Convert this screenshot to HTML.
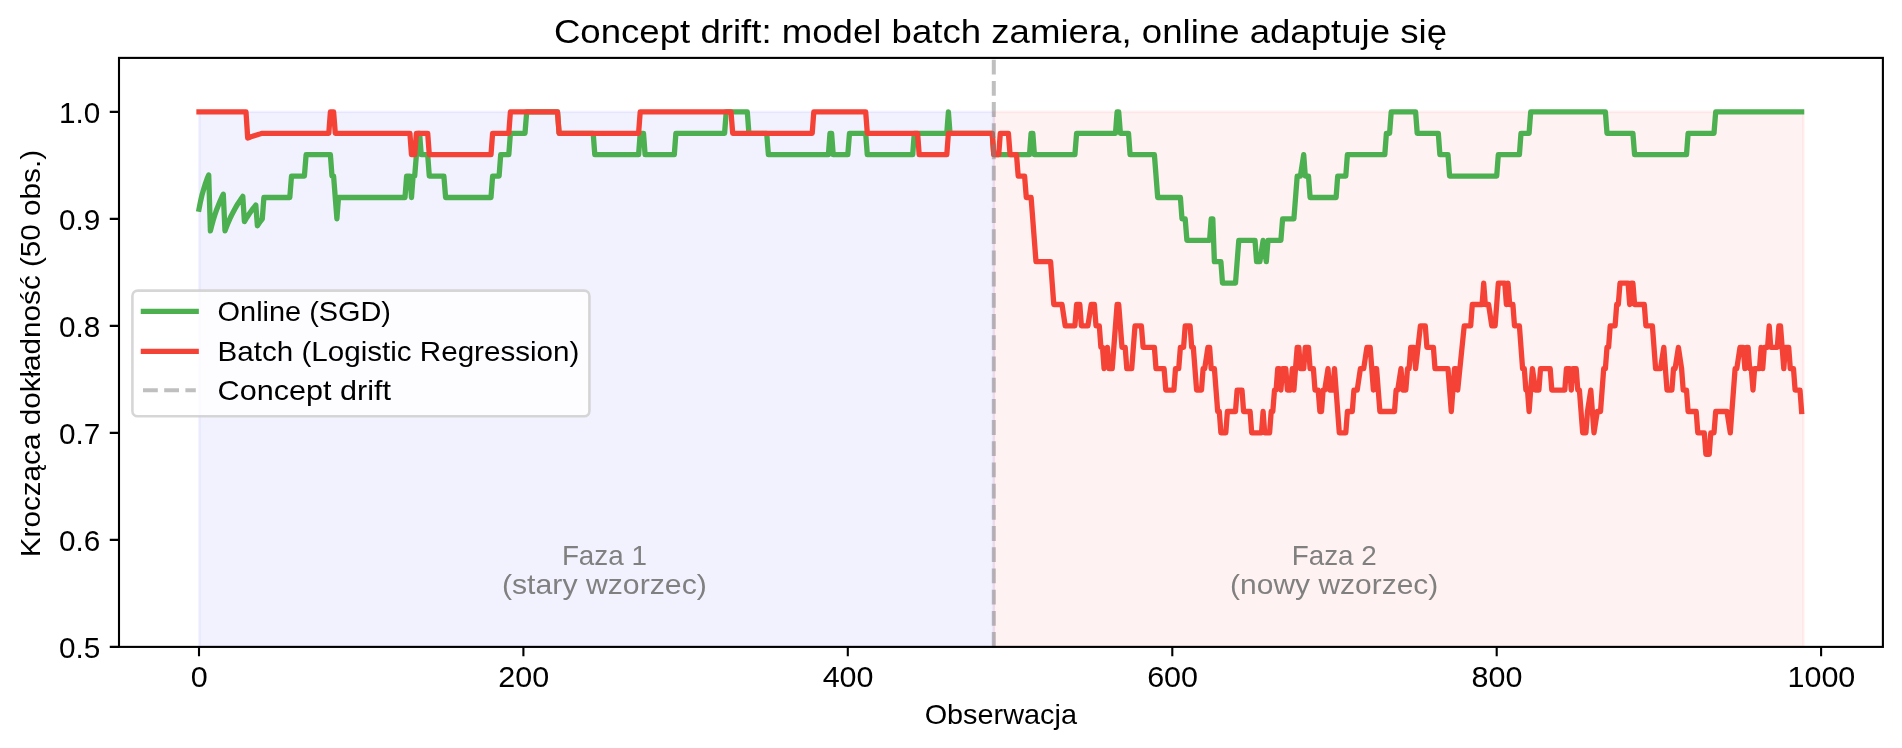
<!DOCTYPE html><html><head><meta charset="utf-8"><title>Concept drift</title><style>html,body{margin:0;padding:0;background:#fff}svg{display:block;will-change:transform}text{font-family:"Liberation Sans",sans-serif}</style></head><body>
<svg width="1902" height="748" viewBox="0 0 1902 748">
<rect width="1902" height="748" fill="#fff"/>
<rect x="199.4" y="111.9" width="794.4" height="535.0" fill="#0000ff" fill-opacity="0.05" stroke="#0000ff" stroke-opacity="0.05" stroke-width="2.6"/>
<rect x="993.8" y="111.9" width="809.6" height="535.0" fill="#ff0000" fill-opacity="0.05" stroke="#ff0000" stroke-opacity="0.05" stroke-width="2.6"/>
<clipPath id="c"><rect x="119" y="57.9" width="1763.9" height="589"/></clipPath>
<g clip-path="url(#c)" fill="none" stroke-linejoin="round" stroke-linecap="square">
<path d="M199.0 209.2 L200.6 201.1 L202.2 194.2 L203.9 188.4 L205.5 183.3 L207.1 178.8 L208.7 174.9 L210.4 230.8 L212.0 224.6 L213.6 218.9 L215.2 213.8 L216.8 209.2 L218.5 205.0 L220.1 201.1 L221.7 197.5 L223.3 194.2 L225.0 230.8 L226.6 226.6 L228.2 222.6 L229.8 218.9 L231.4 215.5 L233.1 212.3 L234.7 209.2 L236.3 206.4 L237.9 203.7 L239.6 201.1 L241.2 198.7 L242.8 196.4 L244.4 221.7 L246.0 218.9 L247.7 216.3 L249.3 213.8 L250.9 211.5 L252.5 209.2 L254.2 207.1 L255.8 205.0 L257.4 225.8 L259.0 223.4 L260.6 221.1 L262.3 218.9 L263.9 197.5 L289.8 197.5 L291.5 176.1 L304.4 176.1 L306.1 154.7 L330.4 154.7 L332.0 176.1 L333.6 176.1 L336.9 218.9 L338.5 197.5 L405.0 197.5 L406.6 176.1 L409.9 176.1 L411.5 197.5 L413.1 176.1 L414.7 176.1 L416.4 154.7 L418.0 133.3 L419.6 133.3 L421.2 154.7 L427.7 154.7 L429.3 176.1 L443.9 176.1 L445.6 197.5 L491.0 197.5 L492.6 176.1 L499.1 176.1 L500.7 154.7 L508.8 154.7 L510.4 133.3 L525.0 133.3 L526.7 111.9 L557.5 111.9 L559.1 133.3 L593.2 133.3 L594.8 154.7 L638.6 154.7 L640.2 133.3 L643.5 133.3 L645.1 154.7 L674.3 154.7 L675.9 133.3 L724.6 133.3 L726.2 111.9 L747.3 111.9 L748.9 133.3 L766.7 133.3 L768.4 154.7 L828.4 154.7 L830.0 133.3 L831.6 133.3 L833.2 154.7 L847.8 154.7 L849.5 133.3 L865.7 133.3 L867.3 154.7 L912.7 154.7 L914.3 133.3 L946.8 133.3 L948.4 111.9 L950.0 133.3 L992.2 133.3 L993.8 154.7 L1029.5 154.7 L1031.1 133.3 L1032.8 133.3 L1034.4 154.7 L1074.9 154.7 L1076.6 133.3 L1115.5 133.3 L1117.1 111.9 L1118.7 111.9 L1120.4 133.3 L1128.5 133.3 L1130.1 154.7 L1154.4 154.7 L1157.7 197.5 L1180.4 197.5 L1182.0 218.9 L1185.2 218.9 L1186.9 240.3 L1209.6 240.3 L1211.2 218.9 L1212.8 218.9 L1214.4 261.7 L1220.9 261.7 L1222.5 283.1 L1235.5 283.1 L1238.8 240.3 L1255.0 240.3 L1256.6 261.7 L1259.9 261.7 L1263.1 240.3 L1266.3 261.7 L1268.0 240.3 L1280.9 240.3 L1282.6 218.9 L1293.9 218.9 L1297.2 176.1 L1300.4 176.1 L1303.7 154.7 L1305.3 176.1 L1308.5 176.1 L1310.1 197.5 L1336.1 197.5 L1337.7 176.1 L1345.8 176.1 L1347.4 154.7 L1384.8 154.7 L1386.4 133.3 L1389.6 133.3 L1391.2 111.9 L1415.6 111.9 L1417.2 133.3 L1438.3 133.3 L1439.9 154.7 L1448.0 154.7 L1449.6 176.1 L1496.7 176.1 L1498.3 154.7 L1519.4 154.7 L1521.0 133.3 L1529.1 133.3 L1530.7 111.9 L1605.4 111.9 L1607.0 133.3 L1632.9 133.3 L1634.6 154.7 L1686.5 154.7 L1688.1 133.3 L1714.0 133.3 L1715.7 111.9 L1801.6 111.9" stroke="#4caf50" stroke-width="5.3"/>
<path d="M199.0 111.9 L246.0 111.9 L247.7 138.0 L249.3 137.4 L250.9 136.8 L252.5 136.3 L254.2 135.7 L255.8 135.2 L257.4 134.7 L259.0 134.2 L260.6 133.8 L262.3 133.3 L263.9 133.3 L328.8 133.3 L330.4 111.9 L333.6 111.9 L335.3 133.3 L409.9 133.3 L411.5 154.7 L414.7 154.7 L416.4 133.3 L427.7 133.3 L429.3 154.7 L491.0 154.7 L492.6 133.3 L508.8 133.3 L510.4 111.9 L557.5 111.9 L559.1 133.3 L638.6 133.3 L640.2 111.9 L731.0 111.9 L732.7 133.3 L812.2 133.3 L813.8 111.9 L865.7 111.9 L867.3 133.3 L917.6 133.3 L919.2 154.7 L946.8 154.7 L948.4 133.3 L992.2 133.3 L993.8 154.7 L998.7 154.7 L1000.3 133.3 L1008.4 133.3 L1010.1 154.7 L1016.5 154.7 L1018.2 176.1 L1024.6 176.1 L1026.3 197.5 L1031.1 197.5 L1036.0 261.7 L1050.6 261.7 L1053.8 304.5 L1062.0 304.5 L1065.2 325.9 L1074.9 325.9 L1076.6 304.5 L1079.8 304.5 L1081.4 325.9 L1087.9 325.9 L1091.2 304.5 L1094.4 304.5 L1096.0 325.9 L1099.3 325.9 L1100.9 347.3 L1102.5 347.3 L1104.1 368.7 L1107.4 347.3 L1109.0 368.7 L1112.2 368.7 L1117.1 304.5 L1118.7 304.5 L1122.0 347.3 L1125.2 347.3 L1126.8 368.7 L1131.7 368.7 L1135.0 325.9 L1141.4 325.9 L1143.1 347.3 L1154.4 347.3 L1156.0 368.7 L1164.1 368.7 L1165.8 390.1 L1173.9 390.1 L1175.5 368.7 L1178.7 368.7 L1180.4 347.3 L1183.6 347.3 L1185.2 325.9 L1190.1 325.9 L1191.7 347.3 L1193.3 347.3 L1196.6 390.1 L1201.5 390.1 L1203.1 368.7 L1204.7 368.7 L1207.9 347.3 L1209.6 347.3 L1211.2 368.7 L1214.4 368.7 L1217.7 411.5 L1219.3 411.5 L1220.9 432.9 L1225.8 432.9 L1227.4 411.5 L1235.5 411.5 L1237.1 390.1 L1242.0 390.1 L1243.6 411.5 L1250.1 411.5 L1251.7 432.9 L1261.5 432.9 L1263.1 411.5 L1264.7 432.9 L1269.6 432.9 L1271.2 411.5 L1272.8 411.5 L1274.5 390.1 L1276.1 390.1 L1277.7 368.7 L1279.3 368.7 L1280.9 390.1 L1282.6 368.7 L1285.8 368.7 L1287.4 390.1 L1290.7 390.1 L1292.3 368.7 L1293.9 390.1 L1295.5 368.7 L1297.2 347.3 L1298.8 347.3 L1300.4 368.7 L1303.7 368.7 L1305.3 347.3 L1308.5 347.3 L1310.1 368.7 L1313.4 368.7 L1315.0 390.1 L1318.2 390.1 L1319.9 411.5 L1321.5 411.5 L1323.1 390.1 L1324.7 390.1 L1328.0 368.7 L1329.6 390.1 L1332.8 390.1 L1334.5 368.7 L1339.3 432.9 L1345.8 432.9 L1347.4 411.5 L1352.3 411.5 L1353.9 390.1 L1357.2 390.1 L1360.4 368.7 L1363.7 368.7 L1366.9 347.3 L1370.2 347.3 L1371.8 368.7 L1373.4 390.1 L1375.0 368.7 L1376.6 368.7 L1379.9 411.5 L1394.5 411.5 L1396.1 390.1 L1397.7 390.1 L1401.0 368.7 L1402.6 390.1 L1405.8 390.1 L1407.5 368.7 L1409.1 368.7 L1410.7 347.3 L1414.0 347.3 L1415.6 368.7 L1420.4 325.9 L1425.3 325.9 L1426.9 347.3 L1433.4 347.3 L1435.0 368.7 L1448.0 368.7 L1451.3 411.5 L1454.5 368.7 L1456.1 368.7 L1457.7 390.1 L1464.2 325.9 L1470.7 325.9 L1472.3 304.5 L1482.1 304.5 L1483.7 283.1 L1485.3 304.5 L1488.6 304.5 L1491.8 325.9 L1495.1 325.9 L1498.3 283.1 L1504.8 283.1 L1506.4 304.5 L1508.0 283.1 L1509.7 304.5 L1512.9 304.5 L1514.5 325.9 L1519.4 325.9 L1522.6 368.7 L1524.3 368.7 L1525.9 390.1 L1527.5 390.1 L1529.1 411.5 L1530.7 390.1 L1532.4 368.7 L1535.6 390.1 L1538.9 390.1 L1540.5 368.7 L1550.2 368.7 L1551.8 390.1 L1564.8 390.1 L1566.4 368.7 L1569.7 368.7 L1571.3 390.1 L1572.9 368.7 L1576.2 368.7 L1577.8 390.1 L1579.4 390.1 L1582.7 432.9 L1585.9 432.9 L1587.5 411.5 L1590.8 390.1 L1594.0 432.9 L1597.3 411.5 L1600.5 411.5 L1603.7 368.7 L1605.4 368.7 L1607.0 347.3 L1608.6 347.3 L1610.2 325.9 L1615.1 325.9 L1616.7 304.5 L1618.3 304.5 L1620.0 283.1 L1628.1 283.1 L1629.7 304.5 L1631.3 283.1 L1632.9 283.1 L1634.6 304.5 L1644.3 304.5 L1645.9 325.9 L1652.4 325.9 L1655.6 368.7 L1660.5 368.7 L1663.8 347.3 L1667.0 390.1 L1671.9 390.1 L1673.5 368.7 L1675.1 368.7 L1678.4 347.3 L1681.6 368.7 L1683.2 390.1 L1686.5 390.1 L1688.1 411.5 L1696.2 411.5 L1697.8 432.9 L1704.3 432.9 L1705.9 454.3 L1709.2 454.3 L1710.8 432.9 L1714.0 432.9 L1715.7 411.5 L1727.0 411.5 L1730.3 432.9 L1735.1 368.7 L1736.8 368.7 L1740.0 347.3 L1743.2 347.3 L1744.9 368.7 L1746.5 347.3 L1748.1 347.3 L1749.7 368.7 L1751.3 368.7 L1753.0 390.1 L1754.6 368.7 L1759.5 368.7 L1761.1 347.3 L1762.7 368.7 L1764.3 347.3 L1767.6 347.3 L1769.2 325.9 L1770.8 347.3 L1777.3 347.3 L1778.9 325.9 L1780.5 325.9 L1783.8 368.7 L1785.4 347.3 L1788.7 347.3 L1790.3 368.7 L1793.5 368.7 L1795.1 390.1 L1800.0 390.1 L1801.6 411.5" stroke="#f44336" stroke-width="5.3"/>
<path d="M993.8 646.9 V57.9" stroke="#808080" stroke-opacity="0.5" stroke-width="4" stroke-linecap="butt" stroke-dasharray="14.8 6.4"/>
</g>
<rect x="119" y="57.9" width="1763.9" height="589" fill="none" stroke="#000" stroke-width="2.1"/>
<path d="M199.0 646.9 v9.24 M523.4 646.9 v9.24 M847.8 646.9 v9.24 M1172.3 646.9 v9.24 M1496.7 646.9 v9.24 M1821.1 646.9 v9.24 M119 646.9 h-9.24 M119 539.9 h-9.24 M119 432.9 h-9.24 M119 325.9 h-9.24 M119 218.9 h-9.24 M119 111.9 h-9.24" stroke="#000" stroke-width="2.1" fill="none"/>
<text x="199.3" y="687.0" font-size="28.67" text-anchor="middle" fill="#000" textLength="17.0" lengthAdjust="spacingAndGlyphs">0</text>
<text x="523.7" y="687.0" font-size="28.67" text-anchor="middle" fill="#000" textLength="50.9" lengthAdjust="spacingAndGlyphs">200</text>
<text x="848.1" y="687.0" font-size="28.67" text-anchor="middle" fill="#000" textLength="50.9" lengthAdjust="spacingAndGlyphs">400</text>
<text x="1172.6" y="687.0" font-size="28.67" text-anchor="middle" fill="#000" textLength="50.9" lengthAdjust="spacingAndGlyphs">600</text>
<text x="1497.0" y="687.0" font-size="28.67" text-anchor="middle" fill="#000" textLength="50.9" lengthAdjust="spacingAndGlyphs">800</text>
<text x="1821.4" y="687.0" font-size="28.67" text-anchor="middle" fill="#000" textLength="67.9" lengthAdjust="spacingAndGlyphs">1000</text>
<text x="100.4" y="657.8" font-size="28.67" text-anchor="end" fill="#000" textLength="41.3" lengthAdjust="spacingAndGlyphs">0.5</text>
<text x="100.4" y="550.8" font-size="28.67" text-anchor="end" fill="#000" textLength="41.3" lengthAdjust="spacingAndGlyphs">0.6</text>
<text x="100.4" y="443.8" font-size="28.67" text-anchor="end" fill="#000" textLength="41.3" lengthAdjust="spacingAndGlyphs">0.7</text>
<text x="100.4" y="336.8" font-size="28.67" text-anchor="end" fill="#000" textLength="41.3" lengthAdjust="spacingAndGlyphs">0.8</text>
<text x="100.4" y="229.8" font-size="28.67" text-anchor="end" fill="#000" textLength="41.3" lengthAdjust="spacingAndGlyphs">0.9</text>
<text x="100.4" y="122.8" font-size="28.67" text-anchor="end" fill="#000" textLength="41.3" lengthAdjust="spacingAndGlyphs">1.0</text>
<text x="1000.8" y="723.9" font-size="28.00" text-anchor="middle" fill="#000" textLength="152.3" lengthAdjust="spacingAndGlyphs">Obserwacja</text>
<text x="1000.5" y="42.6" font-size="33.60" text-anchor="middle" fill="#000" textLength="893.1" lengthAdjust="spacingAndGlyphs">Concept drift: model batch zamiera, online adaptuje się</text>
<text x="0.0" y="0.0" font-size="28.00" text-anchor="middle" fill="#000" textLength="407.3" lengthAdjust="spacingAndGlyphs" transform="translate(39.7 353.6) rotate(-90)">Krocząca dokładność (50 obs.)</text>
<text x="604.4" y="564.8" font-size="28.00" text-anchor="middle" fill="#808080" textLength="85.0" lengthAdjust="spacingAndGlyphs">Faza 1</text>
<text x="604.4" y="594.4" font-size="28.00" text-anchor="middle" fill="#808080" textLength="204.9" lengthAdjust="spacingAndGlyphs">(stary wzorzec)</text>
<text x="1334.2" y="564.8" font-size="28.00" text-anchor="middle" fill="#808080" textLength="85.0" lengthAdjust="spacingAndGlyphs">Faza 2</text>
<text x="1334.2" y="594.4" font-size="28.00" text-anchor="middle" fill="#808080" textLength="208.2" lengthAdjust="spacingAndGlyphs">(nowy wzorzec)</text>
<rect x="132.4" y="290.6" width="457" height="125.7" rx="5.3" ry="5.3" fill="#fff" fill-opacity="0.8" stroke="#ccc" stroke-opacity="0.8" stroke-width="2.6"/>
<g fill="none" stroke-linecap="square"><path d="M143.4 311.3 H196.2" stroke="#4caf50" stroke-width="5.3"/><path d="M143.4 351.4 H196.2" stroke="#f44336" stroke-width="5.3"/><path d="M143 390.3 H195.8" stroke="#808080" stroke-opacity="0.5" stroke-width="4" stroke-linecap="butt" stroke-dasharray="14.8 6.4"/></g>
<text x="217.6" y="320.5" font-size="28.00" text-anchor="start" fill="#000" textLength="173.4" lengthAdjust="spacingAndGlyphs">Online (SGD)</text>
<text x="217.6" y="360.8" font-size="28.00" text-anchor="start" fill="#000" textLength="361.7" lengthAdjust="spacingAndGlyphs">Batch (Logistic Regression)</text>
<text x="217.6" y="399.9" font-size="28.00" text-anchor="start" fill="#000" textLength="173.4" lengthAdjust="spacingAndGlyphs">Concept drift</text>
</svg></body></html>
